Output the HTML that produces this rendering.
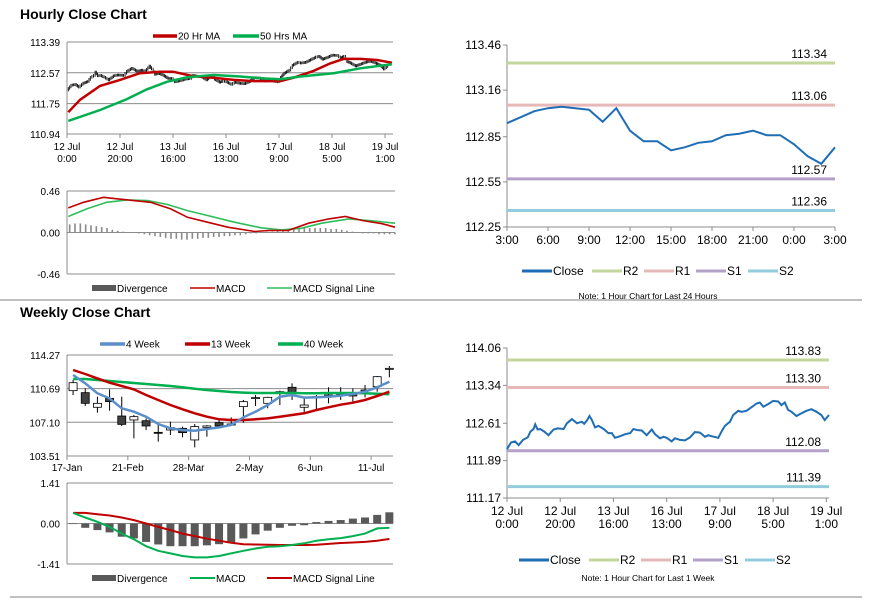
<!DOCTYPE html>
<html><head><meta charset="utf-8">
<style>
html,body{margin:0;padding:0;background:#fff;}
svg{display:block;font-family:"Liberation Sans",sans-serif;}
text{fill:#000;}
</style></head>
<body>
<svg id="s" width="873" height="601" viewBox="0 0 873 601" xmlns="http://www.w3.org/2000/svg">
<text x="20" y="19" font-size="14" font-weight="bold">Hourly Close Chart</text>
<text x="20" y="317" font-size="14" font-weight="bold">Weekly Close Chart</text>
<line x1="0" y1="300" x2="862" y2="300" stroke="#808080" stroke-width="1"/>
<line x1="10" y1="597" x2="862" y2="597" stroke="#808080" stroke-width="1"/>
</svg>
<script>
// ---------- DATA ----------
const hwHours=[0,1.5,3,4.4,6,7.8,8.8,10,10.6,11.5,12.5,14,15.6,17.5,19,21.3,22.5,24.4,26.3,28.1,29,30,31,31.9,33.1,34.4,36.3,38.1,39.4,40.6,42.5,44.4,46.3,47.5,48.8,50.6,52.5,54.4,55.6,57.5,58.8,60,61.9,63.1,65,66.9,68.8,70.6,72.5,74.4,75.6,76.9,79.4,80.6,81.9,83.8,85,86.9,88.1,90,91.9,93.8,95,96.3,98.1,100,101.9,103.1,104.4,105.6,106.9,108.8,110.6,112.5,114.4,116.3,118.1,119.4,121];
const hwClose=[112.11,112.24,112.26,112.19,112.29,112.34,112.45,112.50,112.59,112.49,112.50,112.45,112.38,112.49,112.51,112.50,112.61,112.69,112.61,112.64,112.60,112.66,112.75,112.67,112.53,112.56,112.50,112.42,112.42,112.33,112.36,112.40,112.42,112.50,112.48,112.47,112.38,112.49,112.40,112.32,112.35,112.33,112.26,112.32,112.29,112.28,112.34,112.44,112.43,112.35,112.38,112.36,112.33,112.45,112.56,112.64,112.77,112.85,112.83,112.85,112.92,112.99,113.01,112.93,112.98,113.04,113.03,112.96,113.01,112.87,112.83,112.75,112.80,112.85,112.88,112.83,112.77,112.67,112.77];
const hxTicks=["12 Jul|0:00","12 Jul|20:00","13 Jul|16:00","16 Jul|13:00","17 Jul|9:00","18 Jul|5:00","19 Jul|1:00"];
const hxTickHours=[0,20,40,60,80,100,120];
const ma20Hours=[0.5,4.9,12.5,20,27.5,35,40,47.7,55.3,62.9,70.4,80.5,85.5,93,99.3,104.4,110.7,117,122.6];
const ma20=[111.52,111.85,112.22,112.38,112.56,112.60,112.60,112.48,112.44,112.38,112.35,112.35,112.44,112.62,112.82,112.94,112.94,112.91,112.84];
const ma50Hours=[0.5,12.5,22.6,30.2,37.7,45.3,55.3,65.4,74.2,80.5,88.1,100.6,110.7,122.6];
const ma50=[111.29,111.58,111.87,112.13,112.33,112.45,112.51,112.47,112.42,112.40,112.47,112.56,112.69,112.80];
const hPriceTicks=[113.39,112.57,111.75,110.94];
const hMacdHours=[0.5,6.2,13.7,18.7,25,31.3,38.9,45.2,52.7,60.3,70.4,75.4,82.9,90.6,98.2,104.4,110.7,118.3,123];
const hMacd=[0.273,0.335,0.39,0.373,0.354,0.335,0.262,0.169,0.114,0.059,0.011,0.022,0.022,0.103,0.151,0.177,0.133,0.096,0.059];
const hSigHours=[0.5,7.4,14.9,22.5,30.2,37.7,45.2,52.7,62.8,72.8,80.4,88,95.5,105.7,113.2,123];
const hSig=[0.177,0.262,0.335,0.361,0.354,0.31,0.243,0.188,0.114,0.052,0.029,0.048,0.103,0.151,0.133,0.103];
const hDiv=[0.09,0.10,0.10,0.09,0.08,0.07,0.06,0.05,0.03,0.02,0.01,0.0,0.0,-0.01,-0.02,-0.03,-0.04,-0.05,-0.06,-0.07,-0.07,-0.08,-0.08,-0.07,-0.07,-0.06,-0.06,-0.05,-0.05,-0.04,-0.04,-0.03,-0.03,-0.02,-0.01,-0.01,0.0,0.01,0.01,0.02,0.02,0.03,0.04,0.04,0.05,0.05,0.05,0.05,0.05,0.04,0.04,0.03,0.02,0.01,0.0,-0.01,-0.01,-0.01,-0.02,-0.02,-0.02,-0.02];
const hMacdTicks=[0.46,0.00,-0.46];
const d24Labels=["3:00","6:00","9:00","12:00","15:00","18:00","21:00","0:00","3:00"];
const d24Close=[112.94,112.98,113.02,113.04,113.05,113.04,113.03,112.95,113.04,112.89,112.82,112.82,112.76,112.78,112.81,112.82,112.86,112.87,112.89,112.86,112.86,112.80,112.72,112.67,112.78];
const d24Ticks=[113.46,113.16,112.85,112.55,112.25];
const d24Levels=[113.34,113.06,112.57,112.36];
const wkLevels=[113.83,113.30,112.08,111.39];
const wkTicks=[114.06,113.34,112.61,111.89,111.17];
const levelNames=["R2","R1","S1","S2"];
const wLabels=["17-Jan","21-Feb","28-Mar","2-May","6-Jun","11-Jul"];
const wOpen=[110.47,110.26,108.70,109.65,107.77,107.35,107.27,106.03,106.28,106.46,105.22,106.56,107.06,106.81,108.77,109.65,109.12,110.26,110.83,108.70,109.76,109.90,110.01,109.94,110.47,110.90,112.78];
const wHigh=[111.61,110.72,109.83,110.61,109.83,107.88,107.52,106.92,107.17,106.64,106.92,106.81,107.35,107.63,109.48,110.01,109.83,110.47,111.25,109.83,110.01,110.83,110.83,110.72,111.07,112.03,113.10];
const wLow=[110.01,108.84,108.13,108.34,106.71,105.39,106.28,105.04,105.75,105.50,104.43,105.57,106.46,106.71,107.06,108.84,108.59,108.94,109.48,108.06,108.41,109.12,109.48,109.30,109.76,110.36,111.89];
const wClose=[111.32,109.12,109.12,109.30,106.88,107.70,106.71,105.96,106.53,106.00,106.64,106.71,106.71,106.92,109.30,109.73,109.76,110.36,110.26,108.94,109.83,110.01,110.08,110.01,110.54,111.96,112.85];
const w4=[112.14,111.25,110.19,109.65,108.59,108.23,107.70,106.92,106.46,106.28,106.21,106.39,106.56,106.81,107.63,108.23,108.94,109.83,110.01,109.73,109.76,109.83,109.94,110.12,110.36,110.83,111.43];
const w13=[112.67,112.25,111.78,111.32,110.97,110.61,110.01,109.48,108.94,108.48,108.06,107.70,107.42,107.35,107.35,107.42,107.52,107.70,107.88,108.06,108.41,108.70,108.98,109.19,109.48,109.90,110.36];
const w40=[111.71,111.71,111.61,111.50,111.39,111.29,111.18,111.07,110.97,110.83,110.68,110.54,110.43,110.33,110.26,110.22,110.22,110.22,110.22,110.19,110.19,110.22,110.22,110.22,110.19,110.15,110.08];
const wPriceTicks=[114.27,110.69,107.10,103.51];
const wDiv=[-0.02,-0.15,-0.23,-0.31,-0.46,-0.52,-0.64,-0.73,-0.79,-0.79,-0.79,-0.76,-0.72,-0.66,-0.52,-0.38,-0.25,-0.15,-0.08,-0.06,0.05,0.09,0.12,0.17,0.21,0.30,0.39];
const wMacd=[0.37,0.21,0.06,-0.12,-0.35,-0.55,-0.79,-0.95,-1.04,-1.13,-1.18,-1.18,-1.13,-1.04,-0.95,-0.87,-0.81,-0.79,-0.75,-0.69,-0.60,-0.55,-0.51,-0.44,-0.35,-0.17,-0.15];
const wSig=[0.37,0.37,0.32,0.28,0.21,0.12,0.00,-0.12,-0.23,-0.35,-0.44,-0.53,-0.60,-0.67,-0.72,-0.73,-0.74,-0.75,-0.75,-0.75,-0.74,-0.71,-0.68,-0.66,-0.64,-0.60,-0.54];
const wMacdTicks=[1.41,0.00,-1.41];

// ---------- helpers ----------
const S=document.getElementById('s');
const NS='http://www.w3.org/2000/svg';
function mk(tag,attrs,parent){const e=document.createElementNS(NS,tag);for(const k in attrs)e.setAttribute(k,attrs[k]);(parent||S).appendChild(e);return e;}
function lin(d0,d1,r0,r1){return v=>r0+(v-d0)*(r1-r0)/(d1-d0);}
function txt(x,y,s,size,anchor){const t=mk('text',{x:x,y:y,'font-size':size||10,'text-anchor':anchor||'start'});t.textContent=s;return t;}
function pathD(xs,ys){return xs.map((x,i)=>(i?'L':'M')+x.toFixed(1)+' '+ys[i].toFixed(1)).join(' ');}
const GRID='#8c8c8c';

// ===== Hourly price chart =====
(function(){
 const x=lin(0,123,67,393), y=lin(113.39,110.94,42,134);
 hPriceTicks.forEach(v=>{
  const l=mk('line',{x1:67,x2:393,y1:y(v),y2:y(v),stroke:GRID,'stroke-width':1});
  
  
  const t=txt(60,y(v)+4,v.toFixed(2),10,'end');
  
  
 });
 const ax=mk('line',{x1:67,x2:67,y1:42,y2:134,stroke:GRID});
 
 
 hxTicks.forEach((lab,i)=>{
  const xx=x(hxTickHours[i]);
  const tk=mk('line',{x1:xx,x2:xx,y1:134,y2:138,stroke:GRID});
  
  
  const p=lab.split('|');
  const t1=txt(xx,150,p[0],10,'middle');
  
  
  const t2=txt(xx,162,p[1],10,'middle');
  
  
 });
 hwClose.forEach((c,i)=>{
  if(i===0)return;
  const prev=hwClose[i-1], h0=hwHours[i-1], h1=hwHours[i];
  const steps=Math.max(1,Math.round((h1-h0)*2));
  for(let k=1;k<=steps;k++){
   const f=k/steps, h=h0+(h1-h0)*f, v=prev+(c-prev)*f, vp=prev+(c-prev)*(k-1)/steps;
   const hi=Math.max(v,vp)+0.035, lo=Math.min(v,vp)-0.035;
   const b=mk('line',{x1:x(h),x2:x(h),y1:y(hi),y2:y(lo),stroke:'#000','stroke-width':0.9});
   
   
  }
 });
 const r=mk('path',{d:pathD(ma20Hours.map(x),ma20.map(y)),fill:'none',stroke:'#c00000','stroke-width':2.5});
 
 
 const g=mk('path',{d:pathD(ma50Hours.map(x),ma50.map(y)),fill:'none',stroke:'#00b050','stroke-width':2.5});
 
 
 const l1=mk('line',{x1:153,x2:177,y1:36,y2:36,stroke:'#c00000','stroke-width':3.5});
 
 
 const t1=txt(178,39.5,'20 Hr MA',10);
 
 
 const l2=mk('line',{x1:233,x2:259,y1:36,y2:36,stroke:'#00b050','stroke-width':3.5});
 
 
 const t2=txt(260,39.5,'50 Hrs MA',10);
 
 
})();

// ===== Hourly MACD =====
(function(){
 const x=lin(0,123,67,395), y=lin(0.46,-0.46,191,274);
 hMacdTicks.forEach(v=>{
  const l=mk('line',{x1:67,x2:395,y1:y(v),y2:y(v),stroke:GRID});
  
  
  const t=txt(60,y(v)+4,v.toFixed(2),10,'end');
  
  
 });
 const ax=mk('line',{x1:67,x2:67,y1:191,y2:274,stroke:GRID});
 
 
 hDiv.forEach((v,i)=>{
  const xx=x(i*2+1);
  const b=mk('rect',{x:xx-0.8,width:1.6,y:Math.min(y(v),y(0)),height:Math.abs(y(v)-y(0)),fill:'#8a8a8a'});
  
  
 });
 const g=mk('path',{d:pathD(hSigHours.map(x),hSig.map(y)),fill:'none',stroke:'#2ebd5a','stroke-width':1.6});
 
 
 const r=mk('path',{d:pathD(hMacdHours.map(x),hMacd.map(y)),fill:'none',stroke:'#c00000','stroke-width':1.6});
 
 
 const a=mk('rect',{x:92,y:285,width:24,height:6,fill:'#595959'});
 
 
 const at=txt(117,292,'Divergence',10);
 
 
 const b=mk('line',{x1:190,x2:215,y1:288,y2:288,stroke:'#c00000','stroke-width':1.6});
 
 
 const bt=txt(216,292,'MACD',10);
 
 
 const c=mk('line',{x1:267,x2:292,y1:288,y2:288,stroke:'#2ebd5a','stroke-width':1.6});
 
 
 const ct=txt(293,292,'MACD Signal Line',10);
 
 
})();

// ===== Level charts =====
const lvlColors=['#c3d69b','#e6b9b8','#b3a2c7','#93cddd'];
function levelChart(cfg){
 const x=cfg.x, y=cfg.y;
 cfg.ticks.forEach(v=>{
  const t=txt(cfg.x0-6,y(v)+4,v.toFixed(2),12,'end');
  
  
  const tk=mk('line',{x1:cfg.x0-4,x2:cfg.x0,y1:y(v),y2:y(v),stroke:GRID});
  
  
 });
 const ax=mk('line',{x1:cfg.x0,x2:cfg.x0,y1:cfg.yTop,y2:cfg.yBot,stroke:GRID});
 
 
 const bx=mk('line',{x1:cfg.x0,x2:cfg.x1,y1:cfg.yBot,y2:cfg.yBot,stroke:GRID});
 
 
 cfg.levels.forEach((v,i)=>{
  const l=mk('line',{x1:cfg.x0,x2:cfg.x1,y1:y(v),y2:y(v),stroke:lvlColors[i],'stroke-width':3});
  
  
  const t=txt(cfg.x1-8,y(v)-5,v.toFixed(2),12,'end');
  
  
 });
 const p=mk('path',{d:pathD(cfg.cx.map(x),cfg.cy.map(y)),fill:'none',stroke:'#1f6eb5','stroke-width':2});
 
 
 cfg.xlabels.forEach((lab,i)=>{
  const xx=x(cfg.xlabPos[i]);
  const tk=mk('line',{x1:xx,x2:xx,y1:cfg.yBot,y2:cfg.yBot+4,stroke:GRID});
  
  
  const parts=lab.split('|');
  parts.forEach((s,j)=>{
   const t=txt(xx,cfg.yBot+17+j*13,s,12,'middle');
   
   
  });
 });
 const L=cfg.legY, lx=cfg.legX;
 const names=['Close','R2','R1','S1','S2'], cols=['#1f6eb5'].concat(lvlColors);
 const offs=[0,70,122,174,226];
 names.forEach((n,i)=>{
  const sw=mk('line',{x1:lx+offs[i],x2:lx+offs[i]+30,y1:L,y2:L,stroke:cols[i],'stroke-width':3});
  
  
  const t=txt(lx+offs[i]+31,L+4,n,12);
  
  
 });
 const nt=txt(cfg.noteX,cfg.noteY,cfg.note,8.5,'middle');
 
 
}
levelChart({pfx:'day',x0:507,x1:835,yTop:45,yBot:227,ticks:d24Ticks,levels:d24Levels,
 x:lin(0,24,507,835),y:lin(113.46,112.25,45,227),
 cx:d24Close.map((_,i)=>i),cy:d24Close,xlabels:d24Labels,xlabPos:d24Labels.map((_,i)=>i*3),
 legX:522,legY:271,noteX:648,noteY:299,note:'Note: 1 Hour Chart for Last 24 Hours'});
levelChart({pfx:'week',x0:507,x1:829,yTop:348,yBot:498,ticks:wkTicks,levels:wkLevels,
 x:lin(0,121,507,829),y:lin(114.06,111.17,348,498),
 cx:hwHours,cy:hwClose,xlabels:hxTicks,xlabPos:hxTickHours,
 legX:519,legY:560,noteX:648,noteY:581,note:'Note: 1 Hour Chart for Last 1 Week'});

// ===== Weekly candle chart =====
(function(){
 const N=wClose.length, x=lin(0,26.8,67,393), y=lin(114.27,103.51,355,456);
 wPriceTicks.forEach(v=>{
  const l=mk('line',{x1:67,x2:393,y1:y(v),y2:y(v),stroke:GRID});
  
  
  const t=txt(60,y(v)+4,v.toFixed(2),10,'end');
  
  
 });
 const ax=mk('line',{x1:67,x2:67,y1:355,y2:456,stroke:GRID});
 
 
 wLabels.forEach((lab,i)=>{
  const xx=x(i*5);
  const tk=mk('line',{x1:xx,x2:xx,y1:456,y2:460,stroke:GRID});
  
  
  const t=txt(xx,471,lab,10,'middle');
  
  
 });
 for(let i=0;i<N;i++){
  const cx=x(i+0.5);
  const w=mk('line',{x1:cx,x2:cx,y1:y(wHigh[i]),y2:y(wLow[i]),stroke:'#000','stroke-width':1});
  
  
  const top=Math.max(wOpen[i],wClose[i]), bot=Math.min(wOpen[i],wClose[i]);
  const up=wClose[i]>=wOpen[i];
  const b=mk('rect',{x:cx-4,width:8,y:y(top),height:Math.max(1,y(bot)-y(top)),fill:up?'#fff':'#404040',stroke:'#000','stroke-width':0.8});
  
  
 }
 const xs=wClose.map((_,i)=>x(i+0.5));
 [[w40,'#00b050','ma40-week-line'],[w13,'#c00000','ma13-week-line'],[w4,'#5b8fc9','ma4-week-line']].forEach(s=>{
  const p=mk('path',{d:pathD(xs,s[0].map(y)),fill:'none',stroke:s[1],'stroke-width':2.5});
  
  
 });
 const leg=[[100,'#5b8fc9','4 Week','legend-4-week'],[185,'#c00000','13 Week','legend-13-week'],[278,'#00b050','40 Week','legend-40-week']];
 leg.forEach(l=>{
  const sw=mk('line',{x1:l[0],x2:l[0]+25,y1:344,y2:344,stroke:l[1],'stroke-width':3.5});
  
  
  const t=txt(l[0]+26,347.5,l[2],10);
  
  
 });
})();

// ===== Weekly MACD =====
(function(){
 const x=lin(0,26.8,67,393), y=lin(1.41,-1.41,483,564);
 wMacdTicks.forEach(v=>{
  const l=mk('line',{x1:67,x2:393,y1:y(v),y2:y(v),stroke:GRID});
  
  
  const t=txt(60,y(v)+4,v.toFixed(2),10,'end');
  
  
 });
 const ax=mk('line',{x1:67,x2:67,y1:483,y2:564,stroke:GRID});
 
 
 wDiv.forEach((v,i)=>{
  const cx=x(i+0.5);
  const b=mk('rect',{x:cx-4,width:8,y:Math.min(y(v),y(0)),height:Math.max(0.5,Math.abs(y(v)-y(0))),fill:'#595959'});
  
  
 });
 const xs=wMacd.map((_,i)=>x(i+0.5));
 const r=mk('path',{d:pathD(xs,wSig.map(y)),fill:'none',stroke:'#c00000','stroke-width':2});
 
 
 const g=mk('path',{d:pathD(xs,wMacd.map(y)),fill:'none',stroke:'#00b050','stroke-width':2});
 
 
 const a=mk('rect',{x:92,y:575,width:24,height:6,fill:'#595959'});
 
 
 const at=txt(117,582,'Divergence',10);
 
 
 const b=mk('line',{x1:190,x2:215,y1:578,y2:578,stroke:'#00b050','stroke-width':2});
 
 
 const bt=txt(216,582,'MACD',10);
 
 
 const c=mk('line',{x1:267,x2:292,y1:578,y2:578,stroke:'#c00000','stroke-width':2});
 
 
 const ct=txt(293,582,'MACD Signal Line',10);
 
 
})();
</script>
</body></html>
